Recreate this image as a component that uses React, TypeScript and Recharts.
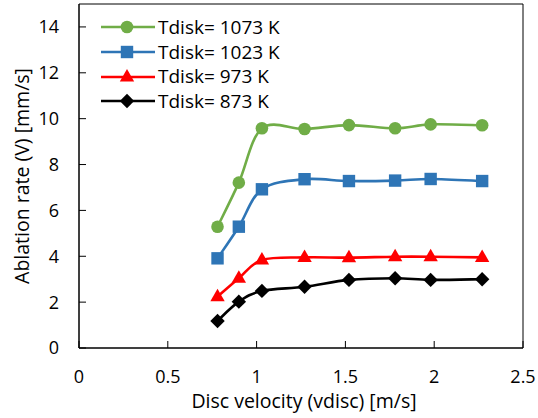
import { LineChart, Line, XAxis, YAxis, ReferenceArea } from "recharts";

const velocity = [0.78, 0.9, 1.03, 1.27, 1.52, 1.78, 1.98, 2.27];
const rate1073 = [5.29, 7.21, 9.58, 9.55, 9.72, 9.58, 9.75, 9.71];
const rate1023 = [3.91, 5.29, 6.92, 7.36, 7.28, 7.3, 7.37, 7.28];
const rate973 = [2.24, 3.04, 3.84, 3.95, 3.94, 3.98, 3.98, 3.95];
const rate873 = [1.18, 2.02, 2.49, 2.67, 2.97, 3.04, 2.97, 3.0];

const xTicks = [0, 0.5, 1, 1.5, 2, 2.5];
const yTicks = [0, 2, 4, 6, 8, 10, 12, 14];

const data = velocity.map((v, i) => ({
  v,
  t1073: rate1073[i],
  t1023: rate1023[i],
  t973: rate973[i],
  t873: rate873[i],
}));

const FONT = "'Open Sans', sans-serif";

type Shape = "circle" | "square" | "triangle" | "diamond";

function Marker({ cx, cy, shape, color }: { cx: number; cy: number; shape: Shape; color: string }) {
  if (cx == null || cy == null) return null;
  if (shape === "circle") return <circle cx={cx} cy={cy} r={6.3} fill={color} />;
  if (shape === "square") return <rect x={cx - 6.2} y={cy - 6.2} width={12.4} height={12.4} fill={color} />;
  if (shape === "triangle")
    return <polygon points={`${cx},${cy - 8} ${cx + 7.2},${cy + 4.5} ${cx - 7.2},${cy + 4.5}`} fill={color} />;
  return <polygon points={`${cx},${cy - 7.2} ${cx + 7.2},${cy} ${cx},${cy + 7.2} ${cx - 7.2},${cy}`} fill={color} />;
}

const series = [
  { key: "t1073", name: "Tdisk= 1073 K", color: "#70AD47", shape: "circle" as Shape },
  { key: "t1023", name: "Tdisk= 1023 K", color: "#2E75B6", shape: "square" as Shape },
  { key: "t973", name: "Tdisk= 973 K", color: "#FF0000", shape: "triangle" as Shape },
  { key: "t873", name: "Tdisk= 873 K", color: "#000000", shape: "diamond" as Shape },
];

// excel-style smoothed line (catmull-rom through the points)
function excelSmooth(context: any) {
  let pts: number[][] = [];
  return {
    areaStart() {},
    areaEnd() {},
    lineStart() {
      pts = [];
    },
    point(x: number, y: number) {
      pts.push([+x, +y]);
    },
    lineEnd() {
      if (!pts.length) return;
      context.moveTo(pts[0][0], pts[0][1]);
      for (let i = 0; i < pts.length - 1; i++) {
        const p0 = pts[Math.max(i - 1, 0)];
        const p1 = pts[i];
        const p2 = pts[i + 1];
        const p3 = pts[Math.min(i + 2, pts.length - 1)];
        context.bezierCurveTo(
          p1[0] + (p2[0] - p0[0]) / 6,
          p1[1] + (p2[1] - p0[1]) / 6,
          p2[0] - (p3[0] - p1[0]) / 6,
          p2[1] - (p3[1] - p1[1]) / 6,
          p2[0],
          p2[1]
        );
      }
    },
  };
}

function ChartLegend() {
  return (
    <div style={{ position: "absolute", left: 100, top: 15, fontFamily: FONT, fontSize: 19, color: "#000" }}>
      {series.map((s) => (
        <div key={s.key} style={{ display: "flex", alignItems: "center", height: 24.7 }}>
          <svg width={56} height={20}>
            <line x1={1} x2={55} y1={10} y2={10} stroke={s.color} strokeWidth={2.6} />
            <Marker cx={27} cy={10} shape={s.shape} color={s.color} />
          </svg>
          <span style={{ marginLeft: 2, lineHeight: 1 }}>{s.name}</span>
        </div>
      ))}
    </div>
  );
}

export default function App() {
  return (
    <div style={{ position: "fixed", left: 0, top: 0, width: 538, height: 418, background: "#fff" }}>
      <LineChart width={538} height={418} data={data} margin={{ top: 4, right: 15, bottom: 0, left: 0 }}>
        <XAxis
          type="number"
          dataKey="v"
          domain={[0, 2.5]}
          ticks={xTicks}
          height={70}
          stroke="#000"
          tickSize={-7}
          tickMargin={29}
          tick={{ fill: "#000", fontSize: 18, fontFamily: FONT }}
          label={{
            value: "Disc velocity (vdisc) [m/s]",
            position: "insideBottom",
            offset: 10,
            dx: 3,
            style: { fill: "#000", fontSize: 19.5, fontFamily: FONT },
          }}
        />
        <YAxis
          type="number"
          domain={[0, 15]}
          ticks={yTicks}
          width={79}
          stroke="#000"
          tickSize={-7}
          tickMargin={27}
          tick={{ fill: "#000", fontSize: 18, fontFamily: FONT }}
          label={{
            value: "Ablation rate (V) [mm/s]",
            angle: -90,
            position: "insideLeft",
            offset: 22,
            style: { fill: "#000", fontSize: 19.5, fontFamily: FONT, textAnchor: "middle" },
          }}
        />
        <ReferenceArea x1={0} x2={2.5} y1={0} y2={15} fill="none" stroke="#000" strokeWidth={1} />
        {series.map((s) => (
          <Line
            key={s.key}
            dataKey={s.key}
            name={s.name}
            type={excelSmooth as any}
            stroke={s.color}
            strokeWidth={2.6}
            dot={(p: any) => <Marker key={`${s.key}-${p.index}`} cx={p.cx} cy={p.cy} shape={s.shape} color={s.color} />}
            activeDot={false}
            isAnimationActive={false}
          />
        ))}
      </LineChart>
      <ChartLegend />
    </div>
  );
}
